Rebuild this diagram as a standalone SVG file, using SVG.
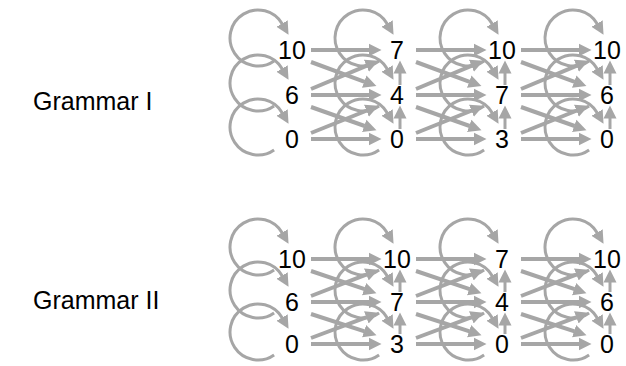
<svg xmlns="http://www.w3.org/2000/svg" width="626" height="366" viewBox="0 0 626 366">
<style>
text{font-family:"Liberation Sans",Arial,sans-serif;font-size:25px;fill:#000}
.n{text-anchor:middle}
.e{fill:none;stroke:#a6a6a6;stroke-width:4;marker-end:url(#ah)}
.l{fill:none;stroke:#a6a6a6;stroke-width:3;marker-end:url(#ah)}
.v{fill:none;stroke:#a6a6a6;stroke-width:3;marker-end:url(#ah)}
</style>
<defs>
<marker id="ah" markerUnits="userSpaceOnUse" markerWidth="16" markerHeight="16" viewBox="0 -8 16 16" refX="0.5" refY="0" orient="auto">
<path d="M0,-6.5 L13,0 L0,6.5 z" fill="#a6a6a6"/>
</marker>
</defs>
<g id="connectors">
<path class="l" d="M274.1,60.9 A28,28 0 1 1 282.3,24"/>
<path class="l" d="M274.1,105.9 A28,28 0 1 1 282.3,69"/>
<path class="l" d="M274.1,149.9 A28,28 0 1 1 282.3,113"/>
<path class="l" d="M379.1,60.9 A28,28 0 1 1 387.3,24"/>
<path class="l" d="M379.1,105.9 A28,28 0 1 1 387.3,69"/>
<path class="l" d="M379.1,149.9 A28,28 0 1 1 387.3,113"/>
<path class="l" d="M484.1,60.9 A28,28 0 1 1 492.3,24"/>
<path class="l" d="M484.1,105.9 A28,28 0 1 1 492.3,69"/>
<path class="l" d="M484.1,149.9 A28,28 0 1 1 492.3,113"/>
<path class="l" d="M589.1,60.9 A28,28 0 1 1 597.3,24"/>
<path class="l" d="M589.1,105.9 A28,28 0 1 1 597.3,69"/>
<path class="l" d="M589.1,149.9 A28,28 0 1 1 597.3,113"/>
<path class="v" d="M400,85 L400,73"/>
<path class="v" d="M400,129 L400,118"/>
<path class="v" d="M505,85 L505,73"/>
<path class="v" d="M505,129 L505,118"/>
<path class="v" d="M610,85 L610,73"/>
<path class="v" d="M610,129 L610,118"/>
<path class="e" d="M311,50 L369,50"/>
<path class="e" d="M311,95 L369,95"/>
<path class="e" d="M311,139 L369,139"/>
<path class="e" d="M311,62 L364.7,81.8"/>
<path class="e" d="M311,107 L364.7,126"/>
<path class="e" d="M311,89 L366.9,65.6"/>
<path class="e" d="M311,133 L366.9,110.5"/>
<path class="e" d="M416,50 L474,50"/>
<path class="e" d="M416,95 L474,95"/>
<path class="e" d="M416,139 L474,139"/>
<path class="e" d="M416,62 L469.7,81.8"/>
<path class="e" d="M416,107 L469.7,126"/>
<path class="e" d="M416,89 L471.9,65.6"/>
<path class="e" d="M416,133 L471.9,110.5"/>
<path class="e" d="M521,50 L579,50"/>
<path class="e" d="M521,95 L579,95"/>
<path class="e" d="M521,139 L579,139"/>
<path class="e" d="M521,62 L574.7,81.8"/>
<path class="e" d="M521,107 L574.7,126"/>
<path class="e" d="M521,89 L576.9,65.6"/>
<path class="e" d="M521,133 L576.9,110.5"/>
<path class="l" d="M274.1,269.9 A28,28 0 1 1 282.3,233"/>
<path class="l" d="M274.1,312.9 A28,28 0 1 1 282.3,276"/>
<path class="l" d="M274.1,354.9 A28,28 0 1 1 282.3,318"/>
<path class="l" d="M379.1,269.9 A28,28 0 1 1 387.3,233"/>
<path class="l" d="M379.1,312.9 A28,28 0 1 1 387.3,276"/>
<path class="l" d="M379.1,354.9 A28,28 0 1 1 387.3,318"/>
<path class="l" d="M484.1,269.9 A28,28 0 1 1 492.3,233"/>
<path class="l" d="M484.1,312.9 A28,28 0 1 1 492.3,276"/>
<path class="l" d="M484.1,354.9 A28,28 0 1 1 492.3,318"/>
<path class="l" d="M589.1,269.9 A28,28 0 1 1 597.3,233"/>
<path class="l" d="M589.1,312.9 A28,28 0 1 1 597.3,276"/>
<path class="l" d="M589.1,354.9 A28,28 0 1 1 597.3,318"/>
<path class="v" d="M400,292 L400,282"/>
<path class="v" d="M400,334 L400,325"/>
<path class="v" d="M505,292 L505,282"/>
<path class="v" d="M505,334 L505,325"/>
<path class="v" d="M610,292 L610,282"/>
<path class="v" d="M610,334 L610,325"/>
<path class="e" d="M311,259 L369,259"/>
<path class="e" d="M311,302 L369,302"/>
<path class="e" d="M311,344 L369,344"/>
<path class="e" d="M311,271 L364.6,289.2"/>
<path class="e" d="M311,314 L364.6,331.3"/>
<path class="e" d="M311,296 L366.8,274.3"/>
<path class="e" d="M311,338 L366.8,317.2"/>
<path class="e" d="M416,259 L474,259"/>
<path class="e" d="M416,302 L474,302"/>
<path class="e" d="M416,344 L474,344"/>
<path class="e" d="M416,271 L469.6,289.2"/>
<path class="e" d="M416,314 L469.6,331.3"/>
<path class="e" d="M416,296 L471.8,274.3"/>
<path class="e" d="M416,338 L471.8,317.2"/>
<path class="e" d="M521,259 L579,259"/>
<path class="e" d="M521,302 L579,302"/>
<path class="e" d="M521,344 L579,344"/>
<path class="e" d="M521,271 L574.6,289.2"/>
<path class="e" d="M521,314 L574.6,331.3"/>
<path class="e" d="M521,296 L576.8,274.3"/>
<path class="e" d="M521,338 L576.8,317.2"/>
</g>
<g id="label-g1"><text x="33" y="110">Grammar I</text></g>
<g id="label-g2"><text x="33" y="309">Grammar II</text></g>
<g id="g1-c1-r1"><text class="n" x="292" y="59">10</text></g>
<g id="g1-c1-r2"><text class="n" x="292" y="104">6</text></g>
<g id="g1-c1-r3"><text class="n" x="292" y="148">0</text></g>
<g id="g1-c2-r1"><text class="n" x="397" y="59">7</text></g>
<g id="g1-c2-r2"><text class="n" x="397" y="104">4</text></g>
<g id="g1-c2-r3"><text class="n" x="397" y="148">0</text></g>
<g id="g1-c3-r1"><text class="n" x="502" y="59">10</text></g>
<g id="g1-c3-r2"><text class="n" x="502" y="104">7</text></g>
<g id="g1-c3-r3"><text class="n" x="502" y="148">3</text></g>
<g id="g1-c4-r1"><text class="n" x="607" y="59">10</text></g>
<g id="g1-c4-r2"><text class="n" x="607" y="104">6</text></g>
<g id="g1-c4-r3"><text class="n" x="607" y="148">0</text></g>
<g id="g2-c1-r1"><text class="n" x="292" y="268">10</text></g>
<g id="g2-c1-r2"><text class="n" x="292" y="311">6</text></g>
<g id="g2-c1-r3"><text class="n" x="292" y="353">0</text></g>
<g id="g2-c2-r1"><text class="n" x="397" y="268">10</text></g>
<g id="g2-c2-r2"><text class="n" x="397" y="311">7</text></g>
<g id="g2-c2-r3"><text class="n" x="397" y="353">3</text></g>
<g id="g2-c3-r1"><text class="n" x="502" y="268">7</text></g>
<g id="g2-c3-r2"><text class="n" x="502" y="311">4</text></g>
<g id="g2-c3-r3"><text class="n" x="502" y="353">0</text></g>
<g id="g2-c4-r1"><text class="n" x="607" y="268">10</text></g>
<g id="g2-c4-r2"><text class="n" x="607" y="311">6</text></g>
<g id="g2-c4-r3"><text class="n" x="607" y="353">0</text></g>
</svg>
